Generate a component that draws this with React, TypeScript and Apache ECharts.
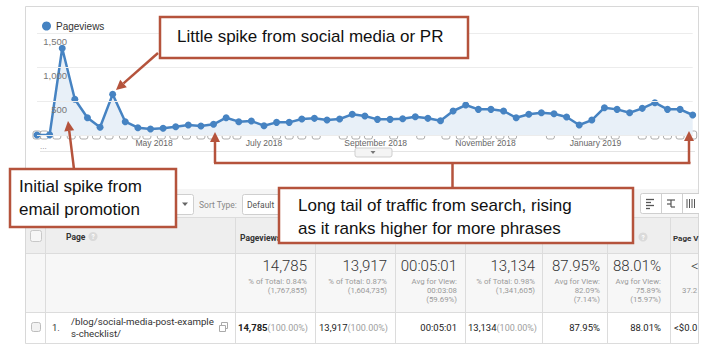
import React, { useEffect, useRef } from "react";
import * as echarts from "echarts";

// ---------- data ----------
const weeks = [
  "2018-02-25", "2018-03-04", "2018-03-11", "2018-03-18", "2018-03-25",
  "2018-04-01", "2018-04-08", "2018-04-15", "2018-04-22", "2018-04-29",
  "2018-05-06", "2018-05-13", "2018-05-20", "2018-05-27",
  "2018-06-03", "2018-06-10", "2018-06-17", "2018-06-24",
  "2018-07-01", "2018-07-08", "2018-07-15", "2018-07-22", "2018-07-29",
  "2018-08-05", "2018-08-12", "2018-08-19", "2018-08-26",
  "2018-09-02", "2018-09-09", "2018-09-16", "2018-09-23", "2018-09-30",
  "2018-10-07", "2018-10-14", "2018-10-21", "2018-10-28",
  "2018-11-04", "2018-11-11", "2018-11-18", "2018-11-25",
  "2018-12-02", "2018-12-09", "2018-12-16", "2018-12-23", "2018-12-30",
  "2019-01-06", "2019-01-13", "2019-01-20", "2019-01-27",
  "2019-02-03", "2019-02-10", "2019-02-17", "2019-02-24",
];

const pageviews = [
  0, 2, 1275, 525, 254, 113, 598, 196, 107, 88, 98, 122, 147, 132, 157, 254,
  196, 206, 137, 186, 186, 235, 245, 220, 235, 304, 279, 230, 230, 240, 269,
  245, 210, 353, 441, 377, 377, 353, 254, 304, 328, 313, 264, 147, 220, 402,
  377, 328, 392, 475, 377, 377, 294,
];

const annotationDates = [
  "2018-02-25", "2018-03-01", "2018-03-08", "2018-03-16", "2018-03-23",
  "2018-03-30", "2018-04-06", "2018-04-14", "2018-04-21", "2018-04-27",
  "2018-05-05", "2018-05-12", "2018-05-19", "2018-05-27", "2018-06-02",
  "2018-06-10", "2018-06-16", "2018-07-08", "2018-07-15", "2018-07-22",
  "2018-07-30", "2018-08-14", "2018-08-21", "2018-08-28", "2018-09-11",
  "2018-09-26", "2018-10-10", "2018-10-18", "2018-10-25", "2018-11-02",
  "2018-11-09", "2018-11-16", "2018-12-07", "2018-12-22", "2019-01-05",
  "2019-01-12", "2019-01-27", "2019-02-03", "2019-02-10", "2019-02-17",
  "2019-02-24",
];

const monthTickDates = ["2018-05-01", "2018-07-01", "2018-09-01", "2018-11-01", "2019-01-01"];
const monthTickLabels = ["May 2018", "July 2018", "September 2018", "November 2018", "January 2019"];

const yMin = 0;
const yMax = 1500;
const yStep = 500;

// table
const summaryMain = ["14,785", "13,917", "00:05:01", "13,134", "87.95%", "88.01%"];
const summarySub = [
  ["% of Total: 0.84%", "(1,767,855)"],
  ["% of Total: 0.87%", "(1,604,735)"],
  ["Avg for View:", "00:03:08", "(59.69%)"],
  ["% of Total: 0.98%", "(1,341,605)"],
  ["Avg for View:", "82.09%", "(7.14%)"],
  ["Avg for View:", "75.89%", "(15.97%)"],
];
const rowMain = ["14,785", "13,917", "00:05:01", "13,134", "87.95%", "88.01%"];
const rowShare = ["(100.00%)", "(100.00%)", "", "(100.00%)", "", ""];
const pagePath = ["/blog/social-media-post-example", "s-checklist/"];

// ---------- helpers ----------
function ts(d: string) {
  const [y, m, dd] = d.split("-").map(Number);
  return Date.UTC(y, m - 1, dd);
}

const RED = "#b5533c";
const BLUE = "#4683c2";
const ANN_FONT = "'Liberation Sans', Arial, Helvetica, sans-serif";
const TABLE_FONT = "Roboto, 'Liberation Sans', Arial, sans-serif";

function txt(x: number, y: number, text: string, size: number, color: string, o: any = {}) {
  const align = o.align || "left";
  const style: any = {
    text,
    fontSize: size,
    fontFamily: o.family || TABLE_FONT,
    fontWeight: o.weight || "normal",
    fill: color,
    align,
    textAlign: align,
    verticalAlign: "middle",
    textVerticalAlign: "middle",
  };
  if (o.rich) style.rich = o.rich;
  return { type: "text", x, y, z: o.z ?? 50, silent: true, style };
}

function rect(x: number, y: number, w: number, h: number, fill: string, stroke?: string, o: any = {}) {
  const style: any = { fill, lineWidth: o.lw || 1 };
  if (stroke) style.stroke = stroke;
  return {
    type: "rect",
    z: o.z ?? 1,
    silent: true,
    shape: { x, y, width: w, height: h, r: o.r || 0 },
    style,
  };
}

function ln(x1: number, y1: number, x2: number, y2: number, stroke: string, lw = 1, z = 1) {
  return { type: "line", z, silent: true, shape: { x1, y1, x2, y2 }, style: { stroke, lineWidth: lw } };
}

function arrow(x1: number, y1: number, x2: number, y2: number) {
  const dx = x2 - x1;
  const dy = y2 - y1;
  const len = Math.hypot(dx, dy);
  const ux = dx / len;
  const uy = dy / len;
  const hl = 10;
  const hw = 5;
  const bx = x2 - ux * hl;
  const by = y2 - uy * hl;
  return [
    ln(x1, y1, bx, by, RED, 2.5, 100),
    {
      type: "polygon",
      z: 100,
      silent: true,
      shape: { points: [[x2, y2], [bx - uy * hw, by + ux * hw], [bx + uy * hw, by - ux * hw]] },
      style: { fill: RED },
    },
  ];
}

function buildGraphic() {
  const g: any[] = [];
  // outer frame
  g.push(rect(25.5, 6.5, 673, 337, "none", "#d8d8d8"));
  g.push(ln(40, 151.5, 695, 151.5, "#e4e4e4"));
  g.push(rect(355, 148, 37, 9, "#f4f4f4", "#cfcfcf", { r: 2, z: 2 }));
  g.push({
    type: "polygon", z: 3, silent: true,
    shape: { points: [[370.5, 151], [375.5, 151], [373, 154]] },
    style: { fill: "#777" },
  });
  g.push(txt(40, 146, "...", 8, "#888", { family: ANN_FONT }));

  // toolbar
  g.push(rect(26, 189, 672, 28, "#f5f5f5"));
  g.push(rect(150.5, 194.5, 43, 20, "#fff", "#cfcfcf", { r: 2, z: 2 }));
  g.push({
    type: "polygon", z: 3, silent: true,
    shape: { points: [[182, 202.5], [188, 202.5], [185, 206]] },
    style: { fill: "#666" },
  });
  g.push(txt(199, 204.5, "Sort Type:", 8.5, "#888"));
  g.push(rect(242.5, 194.5, 50, 20, "#fff", "#cfcfcf", { r: 2, z: 2 }));
  g.push(txt(247, 204.5, "Default", 8.5, "#555"));
  g.push(rect(640.5, 193.5, 66, 20, "#fff", "#cfcfcf", { r: 2, z: 2 }));
  g.push(ln(661.5, 193.5, 661.5, 213.5, "#cfcfcf", 1, 3));
  g.push(ln(682.5, 193.5, 682.5, 213.5, "#cfcfcf", 1, 3));
  // icon 1
  g.push(ln(646, 199.5, 654, 199.5, "#555", 1.3, 3));
  g.push(ln(646, 202.5, 651, 202.5, "#555", 1.3, 3));
  g.push(ln(646, 205.5, 654, 205.5, "#555", 1.3, 3));
  g.push(ln(646, 208.5, 650, 208.5, "#555", 1.3, 3));
  // icon 2
  g.push(ln(667, 200, 675, 200, "#555", 1.2, 3));
  g.push(ln(671, 200, 671, 207, "#555", 1.2, 3));
  g.push(ln(667, 204, 671, 204, "#555", 1.2, 3));
  g.push(ln(671, 207, 675, 207, "#555", 1.2, 3));
  // icon 3
  [687, 689.5, 692, 694.5].forEach((x) => g.push(ln(x, 199, x, 208, "#555", 1, 3)));

  // table backgrounds
  g.push(rect(26, 217.5, 672, 36, "#eeeeee"));
  g.push(rect(26, 253.5, 672, 59, "#f7f7f7"));
  g.push(rect(26, 312.5, 672, 31, "#ffffff"));
  [217.5, 253.5, 312.5, 343.5].forEach((y) => g.push(ln(26, y, 698, y, "#dcdcdc", 1, 2)));
  [45.5, 235.5, 315.5, 395.5, 465.5, 542.5, 607.5, 670.5].forEach((x) =>
    g.push(ln(x, 217.5, x, 343.5, "#dcdcdc", 1, 2))
  );

  // header
  g.push(rect(30.5, 230.5, 11, 11, "#f7f7f7", "#c8c8c8", { r: 2, z: 3 }));
  g.push(txt(66, 237, "Page", 8.5, "#333", { weight: "bold" }));
  g.push({ type: "circle", z: 3, silent: true, shape: { cx: 93, cy: 236.5, r: 4.5 }, style: { fill: "#dadada" } });
  g.push(txt(93, 237, "?", 6.5, "#fff", { align: "center", weight: "bold" }));
  g.push(txt(240, 238, "Pageviews", 8.5, "#333", { weight: "bold" }));
  g.push({ type: "circle", z: 3, silent: true, shape: { cx: 643, cy: 237, r: 4.5 }, style: { fill: "#dadada" } });
  g.push(txt(643, 237.5, "?", 6.5, "#fff", { align: "center", weight: "bold" }));
  g.push(txt(673, 238, "Page V", 8, "#333", { weight: "bold" }));

  // summary row
  const colRight = [307, 387, 457, 535, 600, 661];
  summaryMain.forEach((t, i) => {
    g.push(txt(colRight[i], 266, t, 15, "#333", { align: "right", weight: 300 }));
    summarySub[i].forEach((s, j) => g.push(txt(colRight[i], 281 + j * 9, s, 7.8, "#9a9a9a", { align: "right" })));
  });
  g.push(txt(691, 266, "<", 15, "#333", { weight: 300 }));
  g.push(txt(682, 290, "37.2", 7.8, "#9a9a9a"));

  // data row
  g.push(rect(31.5, 322.5, 9, 9, "#f2f2f2", "#bdbdbd", { r: 2, z: 3 }));
  g.push(txt(52, 327.5, "1.", 9.5, "#333"));
  g.push(txt(71, 321.5, pagePath[0], 9.7, "#333"));
  g.push(txt(71, 333.5, pagePath[1], 9.7, "#333"));
  g.push(rect(221.5, 322.5, 6, 6, "#fff", "#aaa", { z: 3 }));
  g.push(rect(219.5, 325.5, 6, 6, "#fff", "#aaa", { z: 4 }));
  const rowRight = [308, 388, 457, 537, 600, 661];
  rowMain.forEach((t, i) => {
    if (rowShare[i]) {
      g.push(
        txt(rowRight[i], 327.5, `{m|${t}}{g|${rowShare[i]}}`, 9, "#333", {
          align: "right",
          rich: {
            m: { fontSize: 9.5, fontFamily: TABLE_FONT, fontWeight: i === 0 ? "bold" : "normal", fill: "#222" },
            g: { fontSize: 9, fontFamily: TABLE_FONT, fill: "#a0a0a0" },
          },
        })
      );
    } else {
      g.push(txt(rowRight[i], 327.5, t, 9.5, "#222", { align: "right" }));
    }
  });
  g.push(txt(674, 327.5, "<$0.0", 9.5, "#222"));

  // right white overlay (screenshot crop)
  g.push(rect(699, 0, 11, 354, "#ffffff", undefined, { z: 90 }));

  // annotation boxes
  g.push(rect(160, 17, 308, 41, "#ffffff", RED, { lw: 2.5, z: 100 }));
  g.push(txt(177, 36.5, "Little spike from social media or PR", 17, "#111", { family: ANN_FONT, z: 101 }));
  g.push(...arrow(158, 53, 116, 90));

  g.push(rect(10, 169, 166, 58, "#ffffff", RED, { lw: 2.5, z: 100 }));
  g.push(txt(19, 186.5, "Initial spike from", 17, "#111", { family: ANN_FONT, z: 101 }));
  g.push(txt(19, 209, "email promotion", 17, "#111", { family: ANN_FONT, z: 101 }));
  g.push(...arrow(74, 169, 68, 121));

  g.push(rect(279, 188, 354, 55, "#ffffff", RED, { lw: 2.5, z: 100 }));
  g.push(txt(298, 205, "Long tail of traffic from search, rising", 17, "#111", { family: ANN_FONT, z: 101 }));
  g.push(txt(298, 228, "as it ranks higher for more phrases", 17, "#111", { family: ANN_FONT, z: 101 }));
  g.push(ln(452.5, 188, 452.5, 163, RED, 2.5, 100));
  g.push(ln(214, 163, 690.5, 163, RED, 2.5, 100));
  g.push(...arrow(215, 163, 215, 132));
  g.push(...arrow(689, 163, 689, 131));

  return g;
}

export default function App() {
  const ref = useRef<HTMLDivElement>(null);

  useEffect(() => {
    if (!ref.current) return;
    const chart = echarts.init(ref.current, undefined, { renderer: "svg" });
    const monthTs = monthTickDates.map(ts);
    const option: any = {
      animation: false,
      backgroundColor: "#ffffff",
      textStyle: { fontFamily: ANN_FONT },
      legend: {
        data: ["Pageviews"],
        left: 37,
        top: 16,
        icon: "circle",
        itemWidth: 9,
        itemHeight: 9,
        itemGap: 5,
        selectedMode: false,
        textStyle: { fontSize: 10, color: "#333", fontFamily: ANN_FONT },
      },
      grid: { left: 37, right: 17.3, top: 33, bottom: 219, containLabel: false },
      xAxis: {
        type: "value",
        min: ts(weeks[0]),
        max: ts(weeks[weeks.length - 1]),
        axisLine: { lineStyle: { color: "#8c8c8c", width: 1 } },
        axisTick: { show: false },
        splitLine: { show: false },
        axisLabel: {
          customValues: monthTs,
          formatter: (v: number) => {
            const i = monthTs.indexOf(v);
            return i >= 0 ? monthTickLabels[i] : "";
          },
          fontSize: 8.5,
          color: "#666",
          margin: 3,
          hideOverlap: false,
          fontFamily: ANN_FONT,
        },
      },
      yAxis: {
        type: "value",
        min: yMin,
        max: yMax,
        interval: yStep,
        z: 10,
        axisLine: { show: false },
        axisTick: { show: false },
        splitLine: { lineStyle: { color: "#ececec", width: 1 } },
        axisLabel: {
          inside: true,
          margin: 30,
          align: "right",
          verticalAlign: "top",
          padding: [3, 0, 0, 0],
          fontSize: 9.5,
          color: "#777",
          fontFamily: ANN_FONT,
          formatter: (v: number) => (v === 0 ? "" : v.toLocaleString("en-US")),
        },
      },
      series: [
        {
          name: "Annotations",
          type: "scatter",
          data: annotationDates.map((d) => [ts(d), 0]),
          symbol: "roundRect",
          symbolSize: [8, 8],
          itemStyle: { color: "#ffffff", borderColor: "#9a9a9a", borderWidth: 1 },
          silent: true,
          z: 3,
        },
        {
          name: "Pageviews",
          type: "line",
          data: weeks.map((w, i) => [ts(w), pageviews[i]]),
          symbol: "circle",
          symbolSize: 7,
          showAllSymbol: true,
          lineStyle: { color: BLUE, width: 2.5 },
          itemStyle: { color: BLUE },
          areaStyle: { color: "#e8f0f8", opacity: 1 },
          silent: true,
          z: 4,
        },
      ],
      graphic: buildGraphic(),
    };
    chart.setOption(option);
    return () => chart.dispose();
  }, []);

  return (
    <div
      ref={ref}
      style={{ position: "absolute", left: 0, top: 0, width: 710, height: 354, background: "#fff" }}
    />
  );
}
